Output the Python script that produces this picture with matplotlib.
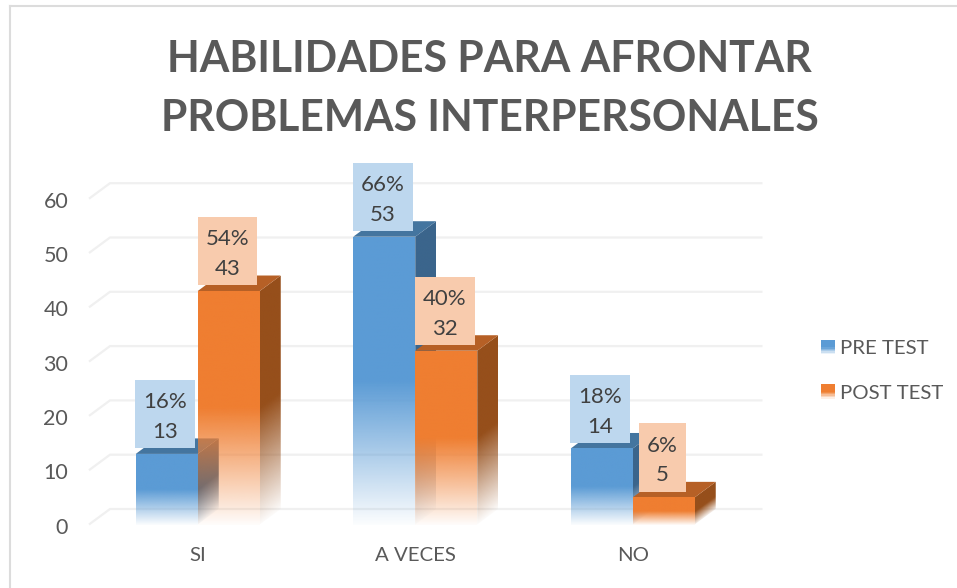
import numpy as np
import matplotlib
matplotlib.use("Agg")
import matplotlib.pyplot as plt
from matplotlib.lines import Line2D
from matplotlib.patches import Patch, Polygon, Rectangle
from matplotlib.path import Path
from matplotlib.legend_handler import HandlerBase
from matplotlib.colors import to_rgb
from matplotlib.transforms import ScaledTranslation

categories = ["SI", "A VECES", "NO"]
pre_test = [13, 53, 14]
post_test = [43, 32, 5]
pre_pct = ["16%", "66%", "18%"]
post_pct = ["54%", "40%", "6%"]
y_ticks = [0, 10, 20, 30, 40, 50, 60]

W, H = 957, 588
BLUE = ("#5b9bd5", "#44759f", "#3b658c", "#bdd7ee")
ORANGE = ("#ef7e31", "#b66026", "#964f1b", "#f8cbad")
BAR_W = 62 / 217.5
DX = 21 / 217.5  # depth of the 3d look, in data units
DY = 15.5 / 5.43

plt.rcParams["font.family"] = ["Lato", "DejaVu Sans"]


def fade(t):
    # solid in the upper half, fading out over the lower half
    return np.clip(0.02 + 0.98 * t / 0.5, 0, 1)


def label_box(x0, y0, w, h, mutation_size):
    # plain box, but sitting a bit higher than the text block (pixels)
    px, py, up = 8, 9.4, 3
    left, right = x0 - px, x0 + w + px
    bottom, top = y0 - py + up, y0 + h + py + up
    return Path([(left, bottom), (right, bottom), (right, top), (left, top), (left, bottom)],
                closed=True)


def fade_image(ax, color, x0, x1, top, alpha, clip, z):
    rgba = np.zeros(alpha.shape + (4,))
    rgba[..., :3] = to_rgb(color)
    rgba[..., 3] = alpha
    im = ax.imshow(rgba, origin="lower", extent=(x0, x1, 0, top), aspect="auto",
                   interpolation="bilinear", zorder=z)
    clip.set_transform(ax.transData)
    im.set_clip_path(clip)


def bar3d(ax, x0, v, colors, z):
    front, top, side = colors[:3]
    x1 = x0 + BAR_W

    # side face, the fade is sheared along the depth
    xs = np.linspace(0, 1, 40)
    ys = np.linspace(0, v + DY, 400)
    xx, yy = np.meshgrid(xs, ys)
    fade_image(ax, side, x1, x1 + DX, v + DY, fade((yy - xx * DY) / v),
               Polygon([(x1, 0), (x1 + DX, DY), (x1 + DX, v + DY), (x1, v)]), z)

    ax.add_patch(Polygon([(x0, v), (x0 + DX, v + DY), (x1 + DX, v + DY), (x1, v)],
                         facecolor=top, edgecolor="none", zorder=z + 1))

    t = np.linspace(0, 1, 400).reshape(-1, 1)
    fade_image(ax, front, x0, x1, v, fade(t),
               Rectangle((x0, 0), BAR_W, v), z + 2)


class FadeHandler(HandlerBase):
    def create_artists(self, legend, orig, xd, yd, width, height, fontsize, trans):
        color = orig.get_facecolor()[:3]
        n = 10
        out = []
        for i in range(n):
            r = Rectangle((-xd, -yd + height * i / n), width, height / n * 1.05,
                          facecolor=color, edgecolor="none", alpha=fade((i + 0.5) / n),
                          transform=trans)
            out.append(r)
        return out


def main():
    fig = plt.figure(figsize=(W / 100, H / 100), dpi=100, facecolor="white")
    ax = fig.add_axes([89 / W, 1 - 524.5 / H, 652.5 / W, 60 * 5.43 / H])
    ax.patch.set_alpha(0)

    # chart frame
    fig.add_artist(Line2D([9.5 / W, 1], [1 - 5.5 / H] * 2, color="#dcdcdc", lw=1.5))
    fig.add_artist(Line2D([10 / W] * 2, [0, 1 - 5.5 / H], color="#dcdcdc", lw=1.5))

    # back wall and side wall gridlines
    for t in y_ticks:
        ax.plot([-0.5, -0.5 + DX, 2.5 + DX], [t, t + DY, t + DY], color="#f0f0f0",
                lw=1.6, clip_on=False, zorder=0, solid_joinstyle="miter",
                solid_capstyle="butt")

    x = np.arange(len(categories))
    for i in x:
        bar3d(ax, i - BAR_W, pre_test[i], BLUE, 2 + 6 * i)
        bar3d(ax, i, post_test[i], ORANGE, 5 + 6 * i)

    # value labels
    for vals, pcts, off, colors in ((pre_test, pre_pct, -BAR_W / 2, BLUE),
                                    (post_test, post_pct, BAR_W / 2, ORANGE)):
        for i in x:
            ax.annotate(pcts[i] + "\n" + str(vals[i]), (i + off, vals[i]),
                        xytext=(-1, 8.6), textcoords="offset points", ha="center",
                        va="bottom", fontsize=16, color="#404040", linespacing=1.6,
                        zorder=40, annotation_clip=False, multialignment="center",
                        bbox=dict(boxstyle=label_box, facecolor=colors[3],
                                  edgecolor="none"))

    ax.set_xlim(-0.5, 2.5)
    ax.set_ylim(0, 60)
    ax.set_xticks(x, categories)
    ax.set_yticks(y_ticks)
    ax.tick_params(axis="both", length=0, labelcolor="#595959")
    ax.tick_params(axis="x", pad=16.5, labelsize=14.7)
    ax.tick_params(axis="y", pad=15, labelsize=15.5)
    nudge = ScaledTranslation(0, -1 / 100, fig.dpi_scale_trans)
    for lab in ax.get_yticklabels():
        lab.set_transform(lab.get_transform() + nudge)
    for s in ax.spines.values():
        s.set_visible(False)

    handles = [Patch(facecolor=BLUE[0], label="PRE TEST"),
               Patch(facecolor=ORANGE[0], label="POST TEST")]
    fig.legend(handles=handles, handler_map={Patch: FadeHandler()}, frameon=False,
               loc="upper left", bbox_to_anchor=(821 / W, 1 - 340 / H),
               fontsize=14.7, labelcolor="#595959", borderpad=0, borderaxespad=0,
               handlelength=0.7, handleheight=0.7, handletextpad=0.25, labelspacing=1.33)

    fig.text(489.5 / W, 1 - 59 / H, "HABILIDADES PARA AFRONTAR", ha="center", va="center",
             fontsize=30.7, fontweight="bold", color="#595959")
    fig.text(489.5 / W, 1 - 118 / H, "PROBLEMAS INTERPERSONALES", ha="center", va="center",
             fontsize=30.7, fontweight="bold", color="#595959")

    fig.savefig("out.png", dpi=100)


if __name__ == "__main__":
    main()
